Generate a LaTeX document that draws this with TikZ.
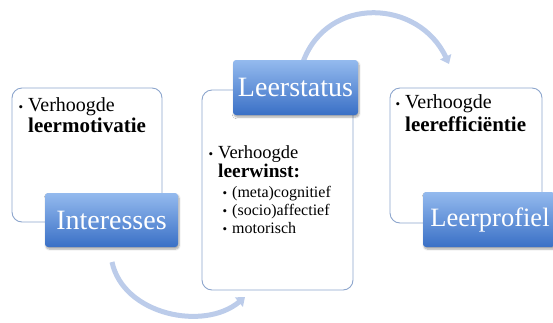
\documentclass[tikz,border=0pt]{standalone}
\usepackage{fontspec}
\setmainfont{Liberation Serif}
\usetikzlibrary{shadows.blur,arrows.meta}
\definecolor{frame}{RGB}{140,165,205}
\definecolor{arc}{RGB}{188,204,234}
\definecolor{ltop}{RGB}{148,186,238}
\definecolor{lbot}{RGB}{58,112,198}
\tikzset{
  outline/.style={draw=frame, line width=0.9pt, rounded corners=10pt, fill=white},
  label/.style={rounded corners=3pt, top color=ltop, bottom color=lbot, draw=none,
     blur shadow={shadow blur steps=6, shadow xshift=1pt, shadow yshift=-2pt, shadow opacity=35},
     text=white, font=\fontsize{28}{30}\selectfont, inner sep=0pt},
  txt/.style={anchor=base west, inner sep=0pt, font=\fontsize{20}{22}\selectfont},
  btxt/.style={anchor=base west, inner sep=0pt, font=\fontsize{21}{23}\selectfont\bfseries},
  mtxt/.style={anchor=base west, inner sep=0pt, font=\fontsize{18.5}{20}\selectfont},
  mbtxt/.style={anchor=base west, inner sep=0pt, font=\fontsize{19.4}{21}\selectfont\bfseries},
  stxt/.style={anchor=base west, inner sep=0pt, font=\fontsize{16}{18}\selectfont},
  bul/.style={anchor=base, inner sep=0pt, font=\fontsize{13}{14}\selectfont},
  flow/.style={draw=arc, line width=5pt, -{Triangle[width=12pt,length=8pt]}},
}
\begin{document}
\begin{tikzpicture}[x=1pt,y=-1pt]
\useasboundingbox (0,0) rectangle (553,322);
% outline boxes
\node[outline, minimum width=150pt, minimum height=134pt] (lbox) at (87,155) {};
\node[outline, minimum width=151pt, minimum height=200pt] (mbox) at (277.5,190) {};
\node[outline, minimum width=152pt, minimum height=135pt] (rbox) at (466,155.5) {};
% arcs
\coordinate (a1s) at (303,62);
\coordinate (a1e) at (449,64);
\draw[flow] (a1s) to[out=70,in=115,looseness=1.25] (a1e);
\coordinate (a2s) at (112,262);
\coordinate (a2e) at (245,297);
\draw[flow] (a2s) to[out=-78,in=-140,looseness=1.0] (a2e);
% labels
\node[label, minimum width=133pt, minimum height=54pt] (interesses) at (111.5,220) {Interesses};
\node[label, minimum width=125pt, minimum height=55pt] (leerstatus) at (295.5,87.5) {Leerstatus};
\node[label, minimum width=132pt, minimum height=55pt, font=\fontsize{26.5}{28}\selectfont] (leerprofiel) at (489,219.5) {\hspace*{2pt}Leerprofiel};
% left text
\node[bul] (lb) at (21,111) {•};
\node[txt] (l1) at (28,111) {Verhoogde};
\node[btxt] (l2) at (28,132) {leermotivatie};
% middle text
\node[bul] (mb) at (211,158) {•};
\node[mtxt] (m1) at (218,158) {Verhoogde};
\node[mbtxt] (m2) at (218,177) {leerwinst:};
\node[bul] (s1b) at (225,197) {•};
\node[stxt] (s1) at (232,197) {(meta)cognitief};
\node[bul] (s2b) at (225,215) {•};
\node[stxt] (s2) at (232,215) {(socio)affectief};
\node[bul] (s3b) at (225,233) {•};
\node[stxt] (s3) at (232,233) {motorisch};
% right text
\node[bul] (rb) at (398,108) {•};
\node[txt] (r1) at (405,108) {Verhoogde};
\node[btxt] (r2) at (405,131) {leerefficiëntie};
\end{tikzpicture}
\end{document}
